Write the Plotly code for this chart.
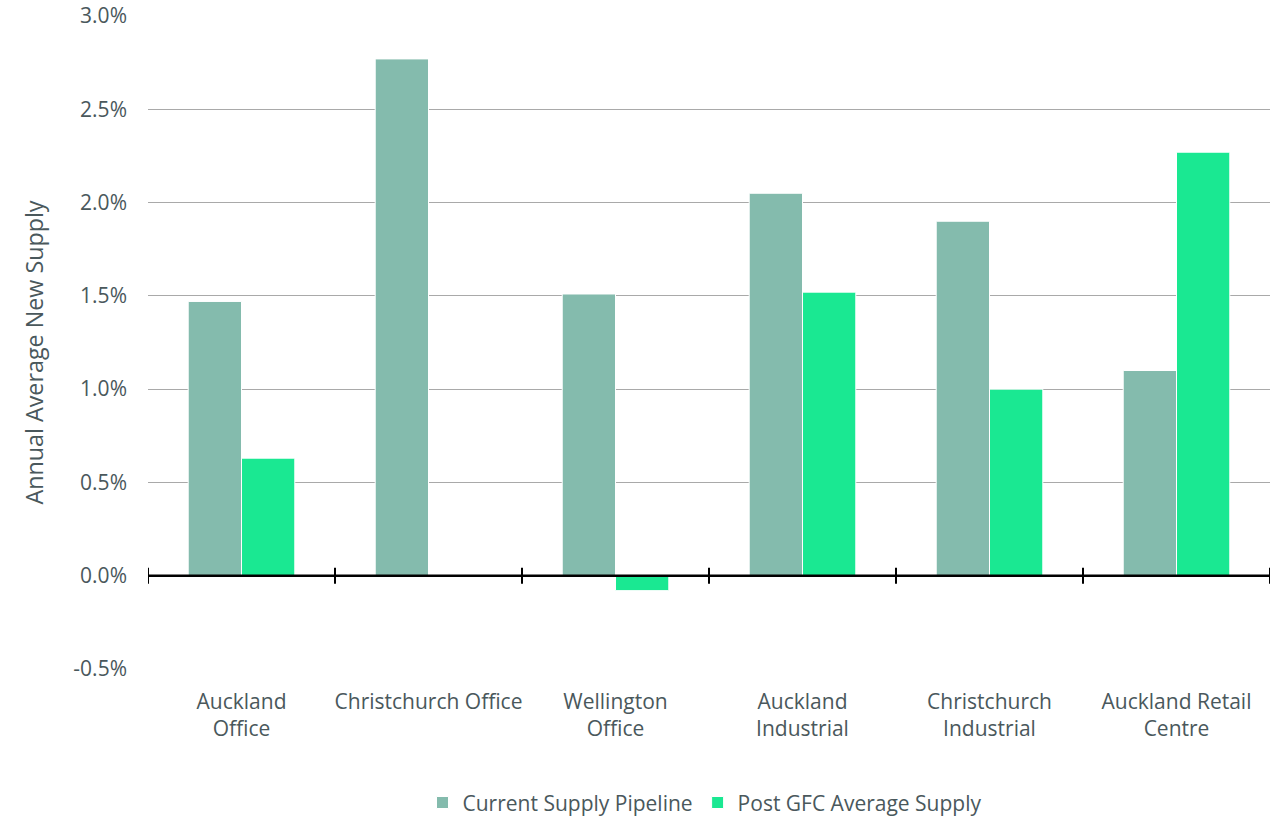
import plotly.graph_objects as go

categories = [
    "Auckland<br>Office",
    "Christchurch Office",
    "Wellington<br>Office",
    "Auckland<br>Industrial",
    "Christchurch<br>Industrial",
    "Auckland Retail<br>Centre",
]
current_pipeline = [0.0147, 0.0277, 0.0151, 0.0205, 0.0190, 0.0110]
post_gfc_average = [0.0063, 0.0, -0.0008, 0.0152, 0.0100, 0.0227]
y_ticks = [-0.005, 0.0, 0.005, 0.010, 0.015, 0.020, 0.025, 0.030]
y_tick_text = [f"{v * 100:.1f}%" for v in y_ticks]

TEXT = "#4a585c"
FONT = "Open Sans"

fig = go.Figure()
fig.add_trace(go.Bar(
    name="Current Supply Pipeline", x=categories, y=current_pipeline,
    marker=dict(color="#84BBAD", line=dict(color="white", width=1)),
))
fig.add_trace(go.Bar(
    name="Post GFC Average Supply", x=categories, y=post_gfc_average,
    marker=dict(color="#1AE892", line=dict(color="white", width=1)),
))

n = len(categories)
# zero baseline drawn over the bars
shapes = [dict(
    type="line", xref="x", yref="y", x0=-0.5, x1=n - 0.5, y0=0, y1=0,
    line=dict(color="black", width=2.5), layer="above",
)]
# category boundary ticks crossing the zero line
for k in range(n + 1):
    shapes.append(dict(
        type="line", xref="x", yref="y", x0=k - 0.5, x1=k - 0.5,
        ysizemode="pixel", yanchor=0, y0=-8, y1=8,
        line=dict(color="black", width=2), layer="above",
    ))

fig.update_layout(
    width=1278, height=816,
    margin=dict(l=148, r=8, t=16, b=147, autoexpand=False),
    paper_bgcolor="white", plot_bgcolor="white",
    font=dict(family=FONT, size=21, color=TEXT),
    barmode="group", bargap=0.43, bargroupgap=0,
    shapes=shapes,
    showlegend=True,
    legend=dict(orientation="h", x=0.496, xanchor="center", y=-0.205, yanchor="middle",
                font=dict(size=21, color=TEXT), itemwidth=30, traceorder="normal"),
    xaxis=dict(
        range=[-0.5, n - 0.5], automargin=False,
        showgrid=False, showline=False, zeroline=False, ticks="",
        ticklabelstandoff=18, tickfont=dict(size=21, color=TEXT),
    ),
    yaxis=dict(
        range=[-0.005, 0.030], tickvals=y_ticks, ticktext=y_tick_text, automargin=False,
        showgrid=True, gridcolor="#a9a9a9", gridwidth=1,
        zeroline=False,
        showline=False, ticks="", ticklabelstandoff=20,
        tickfont=dict(size=21, color=TEXT),
    ),
    annotations=[dict(
        text="Annual Average New Supply", textangle=-90,
        xref="paper", yref="paper", x=0, y=0.5, xanchor="center", yanchor="middle",
        xshift=-115, yshift=-10, showarrow=False,
        font=dict(family=FONT, size=23.3, color=TEXT),
    )],
)

fig.write_html("out.html")
